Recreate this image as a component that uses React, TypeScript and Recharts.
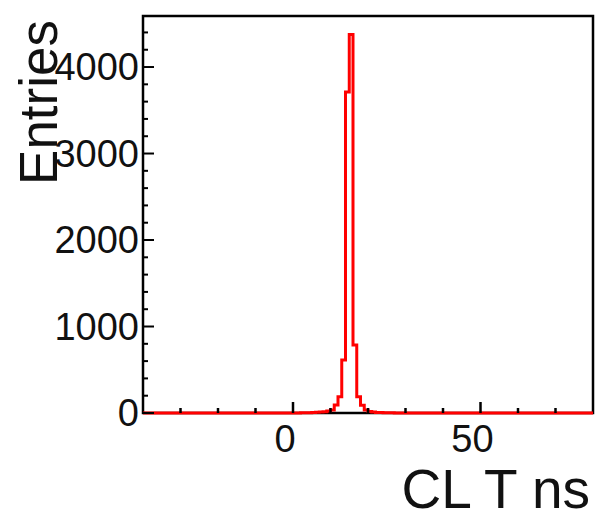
import {LineChart, Line, XAxis, YAxis, ReferenceArea, Label} from "recharts";

// histogram binning: 120 bins of 1 ns starting at -40 ns
const binLow = -40;
const binWidth = 1;

// entries per bin, bins from -40 ns to 80 ns
const counts = [
  0, 0, 0, 0, 0, 0, 0, 0, 0, 0,
  0, 0, 0, 0, 0, 0, 0, 0, 0, 0,
  0, 0, 0, 0, 0, 0, 0, 0, 0, 0,
  0, 0, 0, 0, 0, 0, 0, 0, 0, 0,
  1, 1, 2, 3, 4, 6, 8, 11, 15, 22,
  35, 92, 188, 612, 3710, 4376, 785, 188, 90, 35,
  18, 11, 7, 5, 3, 2, 2, 1, 1, 1,
  0, 0, 0, 0, 0, 0, 0, 0, 0, 0,
  0, 0, 0, 0, 0, 0, 0, 0, 0, 0,
  0, 0, 0, 0, 0, 0, 0, 0, 0, 0,
  0, 0, 0, 0, 0, 0, 0, 0, 0, 0,
  0, 0, 0, 0, 0, 0, 0, 0, 0, 0,
];

const xTicks = [-30, -20, -10, 0, 10, 20, 30, 40, 50, 60, 70];
const xLabels = [0, 50];
const yTicks = [0, 200, 400, 600, 800, 1000, 1200, 1400, 1600, 1800, 2000, 2200, 2400, 2600, 2800, 3000, 3200, 3400, 3600, 3800, 4000, 4200, 4400];
const yLabels = [0, 1000, 2000, 3000, 4000];

const xMax = binLow + counts.length * binWidth;
const yMax = 4590;

// step line needs a closing point at the upper edge of the last bin
const data = counts
  .map((n, i) => ({x: binLow + i * binWidth, n}))
  .concat([{x: xMax, n: counts[counts.length - 1]}]);

const textColor = "#111";

function XTick({x, y, payload}: any) {
  const major = xLabels.includes(payload.value);
  return (
    <g>
      <line x1={x} x2={x} y1={y} y2={y - (major ? 11 : 5)} stroke="#000" strokeWidth={2.5} />
      {major && (
        <text x={x - 8} y={y + 39} textAnchor="middle" fontSize={38} fill={textColor}>
          {payload.value}
        </text>
      )}
    </g>
  );
}

function YTick({x, y, payload}: any) {
  const major = yLabels.includes(payload.value);
  return (
    <g>
      <line x1={x} x2={x + (major ? 11 : 5)} y1={y} y2={y} stroke="#000" strokeWidth={2} />
      {major && (
        <text x={x - 4} y={y} dy={13} textAnchor="end" fontSize={38} fill={textColor}>
          {payload.value}
        </text>
      )}
    </g>
  );
}

export default function App() {
  return (
    <div style={{position: "absolute", left: 0, top: 0, background: "#fff"}}>
      <LineChart
        width={598}
        height={519}
        data={data}
        margin={{top: 16, right: 5, bottom: 0, left: 0}}
        style={{fontFamily: "'Liberation Sans', Arial, Helvetica, sans-serif"}}
      >
        <XAxis
          dataKey="x"
          type="number"
          domain={[binLow, xMax]}
          ticks={xTicks}
          interval={0}
          height={106}
          axisLine={false}
          tickLine={false}
          tickSize={0}
          tickMargin={0}
          tick={<XTick />}
        >
          <Label
            content={({viewBox}: any) => {
              const vb = viewBox || {x: 143, y: 413, width: 450};
              return (
                <text x={vb.x + vb.width - 3} y={vb.y + 95} textAnchor="end" fontSize={55} fill={textColor}>
                  CL T ns
                </text>
              );
            }}
          />
        </XAxis>
        <YAxis
          type="number"
          domain={[0, yMax]}
          ticks={yTicks}
          interval={0}
          width={143}
          axisLine={false}
          tickLine={false}
          tickSize={0}
          tickMargin={0}
          tick={<YTick />}
        >
          <Label
            content={({viewBox}: any) => {
              const vb = viewBox || {x: 0, y: 16};
              return (
                <text
                  transform={`translate(${vb.x + 57},${vb.y + 4}) rotate(-90)`}
                  textAnchor="end"
                  fontSize={53}
                  fill={textColor}
                >
                  Entries
                </text>
              );
            }}
          />
        </YAxis>
        <ReferenceArea
          x1={binLow}
          x2={xMax}
          y1={0}
          y2={yMax}
          ifOverflow="visible"
          fill="none"
          stroke="#000"
          strokeWidth={2.5}
        />
        <Line
          type="stepAfter"
          dataKey="n"
          stroke="#ff0000"
          strokeWidth={3}
          dot={false}
          isAnimationActive={false}
        />
      </LineChart>
    </div>
  );
}
